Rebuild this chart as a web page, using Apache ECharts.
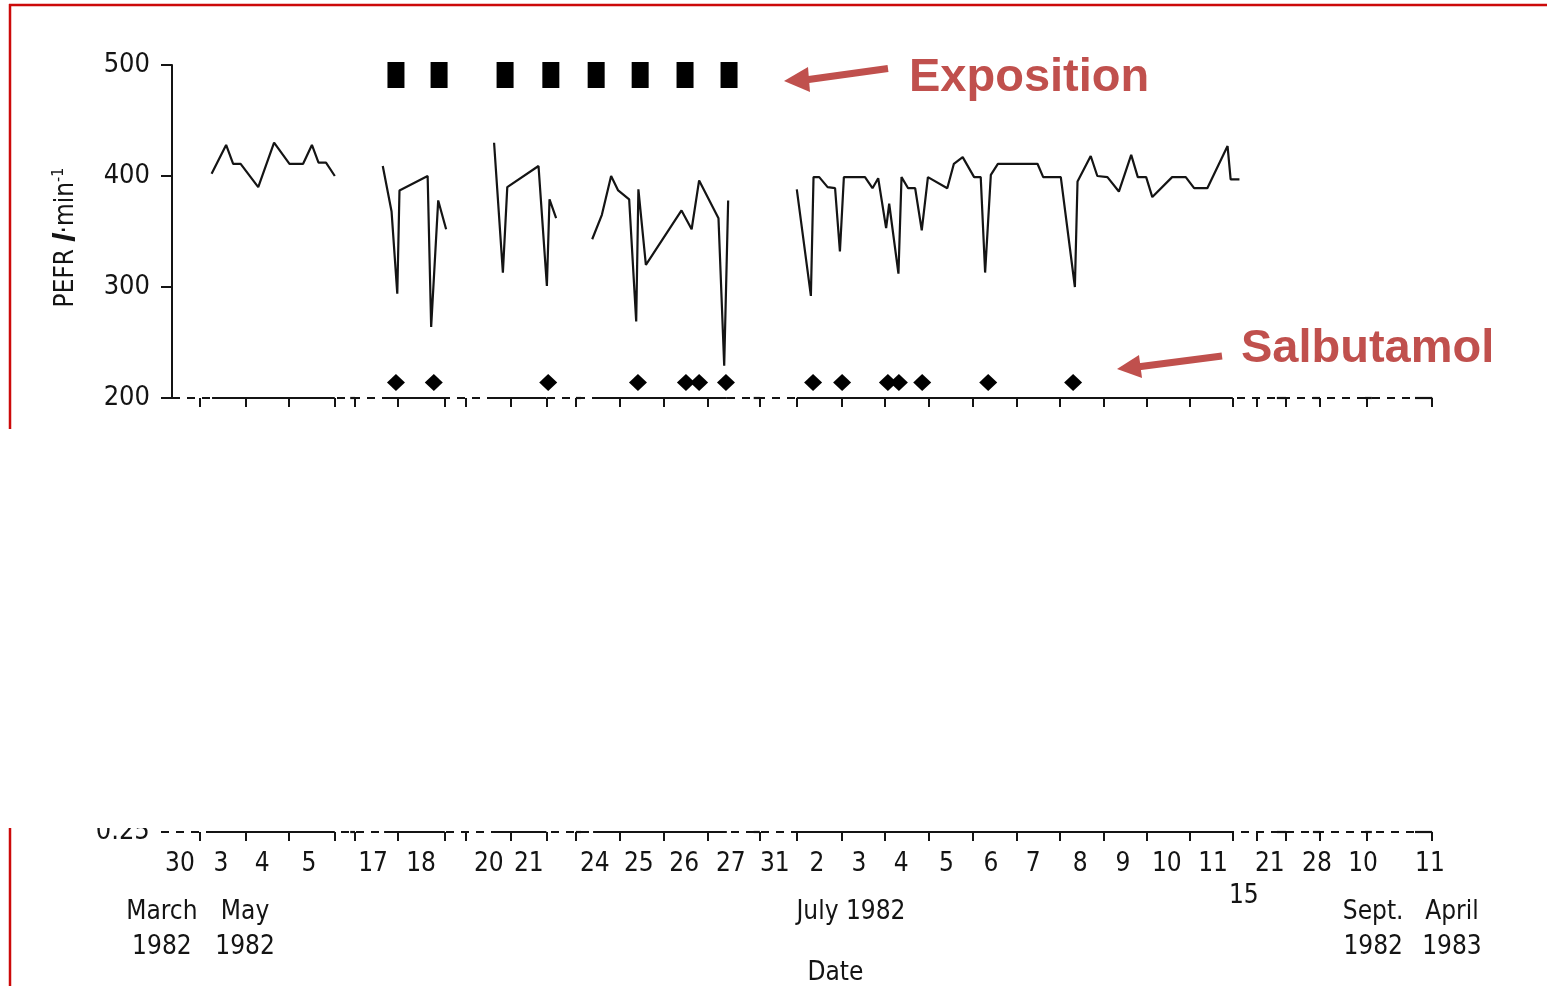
<!DOCTYPE html>
<html><head><meta charset="utf-8">
<script src="https://cdn.jsdelivr.net/npm/echarts@6/dist/echarts.min.js"></script>
<style>html,body{margin:0;padding:0;background:#fff}#c{width:1547px;height:986px}</style>
</head><body><div id="c"></div>
<script>
// ---------- DATA (x = position along the broken date axis, in day-slot units) ----------
const may35X  = [0.90,1.23,1.39,1.56,1.96,2.32,2.67,2.98,3.18,3.33,3.50,3.70];
const may35Y  = [402,428,411,411,390,430,411,411,428,412,412,400];
const may1718X = [4.79,4.99,5.12,5.17,5.81,5.89,6.05,6.23];
const may1718Y = [409,368,294,387,400,264,378,352];
const may2021X = [7.32,7.52,7.62,8.33,8.52,8.58,8.73];
const may2021Y = [430,313,390,409,301,379,362];
const may2427X = [9.55,9.77,9.98,10.14,10.39,10.55,10.60,10.77,11.58,11.81,11.98,12.42,12.55,12.64];
const may2427Y = [343,365,400,387,379,269,388,320,369,352,396,362,229,378];
const julyX = [14.20,14.52,14.58,14.71,14.90,15.07,15.18,15.27,15.75,15.92,16.05,16.23,16.30,16.51,16.58,
  16.73,16.89,17.04,17.18,17.62,17.77,17.97,18.23,18.38,18.48,18.61,18.77,19.67,19.80,20.20,
  20.52,20.58,20.88,21.03,21.26,21.52,21.80,21.95,22.14,22.28,22.73,23.04,23.23,23.53,23.99,24.06,24.26];
const julyY = [388,292,399,399,390,389,332,399,399,389,398,353,375,312,399,
  389,389,351,399,389,411,417,399,399,313,401,411,411,399,399,
  300,395,418,400,399,386,419,399,399,381,399,399,389,389,427,397,397];

const expositionX = [5.09,6.07,7.57,8.61,9.64,10.64,11.66,12.66];
const expositionLevel = 491;
const salbutamolX = [5.09,5.95,8.55,10.59,11.68,11.98,12.59,14.57,15.23,16.27,16.52,17.05,18.55,20.48];
const salbutamolLevel = 214;

const yTickValues = [200,300,400,500];
const dateTickX = [0.64,1.68,2.66,3.70,4.16,5.14,6.20,6.68,7.70,8.51,9.18,10.18,11.18,12.18,13.36,
  14.20,15.23,16.20,17.20,18.20,19.20,20.18,21.18,22.16,23.14,24.11,24.66,25.32,26.09,27.16,28.64];
const axisSolidParts = [[0.91,3.70],[4.05,4.16],[4.82,6.20],[7.34,8.51],[9.18,9.30],[9.57,12.61],
  [13.22,13.36],[14.20,24.11],[25.11,25.32],[25.93,26.09],[27.11,27.27],[28.25,28.64]];
const axisSpan = [0, 28.64];

const dayLabelX = [0.18,1.11,2.05,3.11,4.57,5.66,7.20,8.11,9.61,10.61,11.64,12.70,13.70,14.66,15.61,
  16.57,17.60,18.61,19.57,20.64,21.61,22.61,23.66,24.36,24.95,26.02,27.07,28.59];
const dayLabels = ['30','3','4','5','17','18','20','21','24','25','26','27','31','2','3',
  '4','5','6','7','8','9','10','11','\n15','21','28','10','11'];
const monthLabelX = [-0.23,1.66,15.43,27.30,29.09];
const monthLabels = ['March\n1982','May\n1982','July 1982','Sept.\n1982','April\n1983'];

// ---------- CHART ----------
const FONT = "'DejaVu Sans Condensed', 'Liberation Sans', Arial, sans-serif";
const NOTE_FONT = "'Liberation Sans', Arial, sans-serif";
const INK = '#141414';
const NOTE = '#c0504d';
const FRAME = '#cc0a0a';
const UNIT = 44; // px per day-slot unit
const X_MAX = 28.7, X2_MIN = -0.3, X2_MAX = 30;

function pairs(xs, ys){ return xs.map((x,i)=>[x, ys[i]]); }
function lineSeries(xs, ys){
  return {type:'line', xAxisIndex:0, yAxisIndex:0, data:pairs(xs,ys), symbol:'none',
    lineStyle:{color:INK, width:2.2}, z:5, silent:true};
}
function labelAt(list, texts, v){
  for (let i=0;i<list.length;i++) if (Math.abs(list[i]-v)<1e-6) return texts[i];
  return '';
}
function baseline(xi, yi, yBase, parts, dashed){
  return {type:'custom', xAxisIndex:xi, yAxisIndex:yi, silent:true, z:4,
    data: parts,
    renderItem(params, api){
      const a = api.coord([api.value(0), yBase]);
      const b = api.coord([api.value(1), yBase]);
      return {type:'line', shape:{x1:a[0],y1:a[1],x2:b[0],y2:b[1]},
        style:{stroke:INK, lineWidth:2.2, lineDash: dashed ? [8,7] : null}};
    }};
}

const chart = echarts.init(document.getElementById('c'), null, {renderer:'canvas'});
chart.setOption({
  animation:false,
  backgroundColor:'#fff',
  grid:[
    {left:172, top:65, width:X_MAX*UNIT, height:333, outerBoundsMode:'none', containLabel:false},
    {left:172 + X2_MIN*UNIT, top:700, width:(X2_MAX-X2_MIN)*UNIT, height:132, outerBoundsMode:'none', containLabel:false}
  ],
  xAxis:[
    {gridIndex:0, type:'value', position:'bottom', min:0, max:X_MAX,
      axisLine:{show:false}, splitLine:{show:false}, axisLabel:{show:false},
      axisTick:{show:true, customValues:dateTickX, length:9, lineStyle:{color:INK, width:2}}},
    {gridIndex:1, type:'value', position:'bottom', min:X2_MIN, max:X2_MAX,
      axisLine:{show:false}, splitLine:{show:false},
      axisTick:{show:true, customValues:dateTickX, length:9, lineStyle:{color:INK, width:2}},
      axisLabel:{show:true, customValues:dayLabelX, margin:16, lineHeight:32,
        color:INK, fontSize:26, fontFamily:FONT, hideOverlap:false,
        formatter:v=>labelAt(dayLabelX, dayLabels, v)}},
    {gridIndex:1, type:'value', position:'bottom', min:X2_MIN, max:X2_MAX,
      axisLine:{show:false}, splitLine:{show:false}, axisTick:{show:false},
      axisLabel:{show:true, customValues:monthLabelX, margin:63, lineHeight:35,
        color:INK, fontSize:26, fontFamily:FONT, hideOverlap:false,
        formatter:v=>labelAt(monthLabelX, monthLabels, v)},
      name:'Date', nameLocation:'middle', nameGap:128, nameMoveOverlap:false,
      nameTextStyle:{color:INK, fontSize:26, fontFamily:FONT, padding:[0,0,0,20]}}
  ],
  yAxis:[
    {gridIndex:0, type:'value', min:200, max:500, interval:100,
      axisLine:{show:true, lineStyle:{color:INK, width:2}},
      axisTick:{show:true, length:11, lineStyle:{color:INK, width:2}},
      splitLine:{show:false},
      axisLabel:{color:INK, fontSize:27, fontFamily:FONT, margin:22,
        customValues:yTickValues},
      name:'{a|PEFR}  {b|l}{a|·min}{c|-1}', nameLocation:'middle', nameGap:90, nameRotate:90,
      nameMoveOverlap:false,
      nameTextStyle:{color:INK, fontFamily:FONT, padding:[0,12,0,0],
        rich:{a:{fontSize:26, color:INK, fontFamily:FONT},
              b:{fontSize:31, color:INK, fontFamily:NOTE_FONT, fontStyle:'italic', fontWeight:'bold'},
              c:{fontSize:16, color:INK, fontFamily:FONT, verticalAlign:'top', padding:[0,0,12,0]}}}},
    {gridIndex:1, type:'value', min:0.25, max:1, interval:0.25,
      axisLine:{show:false}, axisTick:{show:false}, splitLine:{show:false},
      axisLabel:{color:INK, fontSize:27, fontFamily:FONT, margin:9, padding:[0,0,10,0],
        formatter:v=> (Math.abs(v-0.25)<1e-9 ? '0.25' : '')}}
  ],
  series:[
    baseline(0,0,200,[axisSpan],true),
    baseline(0,0,200,axisSolidParts,false),
    baseline(1,1,0.25,[[X2_MIN+0.05, axisSpan[1]]],true),
    baseline(1,1,0.25,axisSolidParts,false),
    lineSeries(may35X, may35Y),
    lineSeries(may1718X, may1718Y),
    lineSeries(may2021X, may2021Y),
    lineSeries(may2427X, may2427Y),
    lineSeries(julyX, julyY),
    {type:'scatter', name:'Exposition', xAxisIndex:0, yAxisIndex:0, silent:true,
      data: expositionX.map(x=>[x, expositionLevel]),
      symbol:'rect', symbolSize:[17,26], itemStyle:{color:'#000', opacity:1}, z:6},
    {type:'scatter', name:'Salbutamol', xAxisIndex:0, yAxisIndex:0, silent:true,
      data: salbutamolX.map(x=>[x, salbutamolLevel]),
      symbol:'diamond', symbolSize:[18,17], itemStyle:{color:'#000', opacity:1}, z:6}
  ],
  graphic:[
    // frame lines
    {type:'line', z:100, shape:{x1:9, y1:5, x2:1547, y2:5}, style:{stroke:FRAME, lineWidth:2.5}},
    {type:'line', z:100, shape:{x1:10, y1:4, x2:10, y2:429}, style:{stroke:FRAME, lineWidth:2.5}},
    {type:'line', z:100, shape:{x1:10, y1:828, x2:10, y2:986}, style:{stroke:FRAME, lineWidth:2.5}},
    // cropped lower panel (hide top of its label)
    {type:'rect', z:100, shape:{x:60, y:780, width:130, height:48}, style:{fill:'#fff'}},
    // Exposition annotation
    {type:'polyline', z:100, shape:{points:[[888,68.5],[805,80]]}, style:{stroke:NOTE, lineWidth:7}},
    {type:'polygon', z:100, shape:{points:[[784,81],[808,67],[810,92]]}, style:{fill:NOTE}},
    {type:'text', z:100, style:{text:'Exposition', x:909, y:78, fontSize:47, fontWeight:'bold',
      fontFamily:NOTE_FONT, fill:NOTE, verticalAlign:'middle'}},
    // Salbutamol annotation
    {type:'polyline', z:100, shape:{points:[[1222,356],[1137,367]]}, style:{stroke:NOTE, lineWidth:7}},
    {type:'polygon', z:100, shape:{points:[[1117,369],[1139,355],[1142,378]]}, style:{fill:NOTE}},
    {type:'text', z:100, style:{text:'Salbutamol', x:1241, y:349, fontSize:47, fontWeight:'bold',
      fontFamily:NOTE_FONT, fill:NOTE, verticalAlign:'middle'}}
  ]
});
</script></body></html>
